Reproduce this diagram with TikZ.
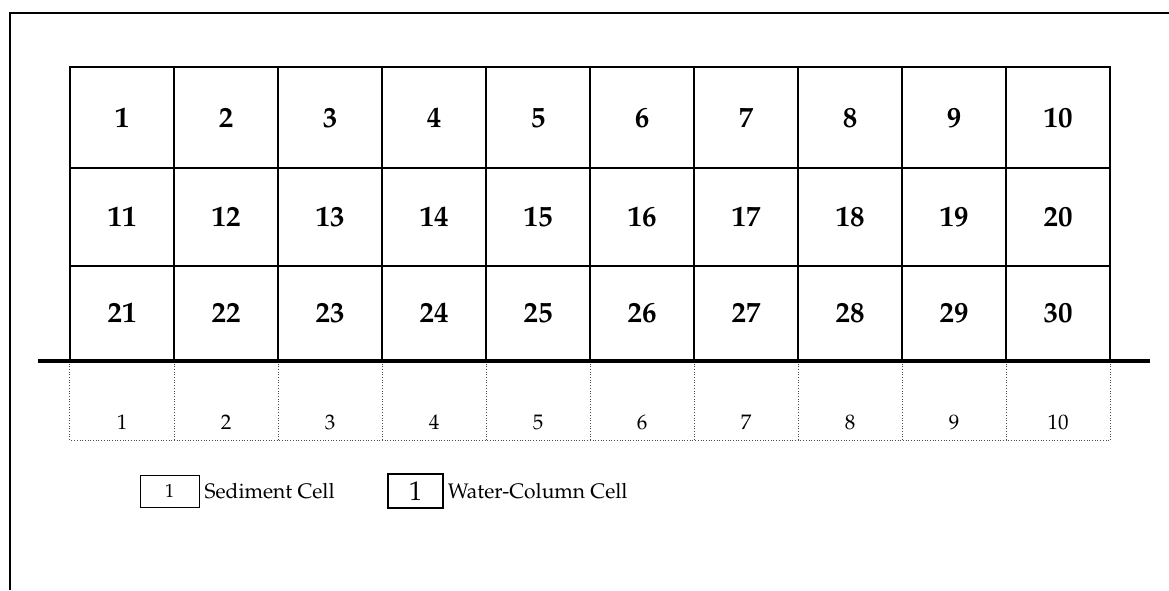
\documentclass[tikz,border=0pt]{standalone}
\usepackage[T1]{fontenc}
\usepackage{mathpazo}
\begin{document}
\begin{tikzpicture}[x=1pt,y=-1pt,
  wcell/.style={draw,line width=1.5pt,minimum width=104pt,inner sep=0pt,font=\fontsize{29}{32}\selectfont\bfseries},
  scell/.style={minimum width=104pt,minimum height=79pt,inner sep=0pt},
  sline/.style={dotted,line width=0.7pt,black!70},
  snum/.style={font=\fontsize{21}{24}\selectfont,anchor=base},
  frame/.style={line width=1.8pt},
  base/.style={line width=3.5pt},
  legtxt/.style={font=\fontsize{21}{24}\selectfont,anchor=west,inner sep=0pt}]
\useasboundingbox (0,0) rectangle (1169,590);
% outer frame (open right and bottom)
\coordinate (fbl) at (10,590);
\coordinate (ftl) at (10,13);
\coordinate (ftr) at (1169,13);
\draw[frame] (fbl) -- (ftl) -- (ftr);
% water-column cells
\foreach \r/\top/\h in {0/67/101,1/168/98,2/266/94}{
  \foreach \c in {1,...,10}{
    \pgfmathtruncatemacro{\n}{\r*10+\c}
    \node[wcell,minimum height=\h pt] (w\n) at ({70+(\c-0.5)*104},{\top+\h/2}) {\raisebox{-1.5pt}{\n}};
  }
}
% sediment cells
\foreach \c in {1,...,10}{
  \node[scell] (s\c) at ({70+(\c-0.5)*104},400.5) {};
  \node[snum] (sn\c) at ({70+(\c-0.5)*104},429) {\c};
  \draw[sline] (s\c.north east) -- (s\c.south east);
}
\draw[sline] (s1.north west) -- (s1.south west) -- (s10.south east);
% sediment-water interface
\coordinate (bl) at (38,361);
\coordinate (br) at (1150,361);
\draw[base] (bl) -- (br);
% legend
\node[draw,line width=0.8pt,minimum width=59pt,minimum height=32pt,inner sep=0pt,font=\fontsize{19}{22}\selectfont] (ls) at (169.5,491) {1};
\node[legtxt] (lst) at ([xshift=5pt]ls.east) {Sediment Cell};
\node[draw,line width=1.4pt,minimum width=55pt,minimum height=34pt,inner sep=0pt,font=\fontsize{27}{30}\selectfont] (lw) at (415.5,491) {1};
\node[legtxt] (lwt) at ([xshift=4pt]lw.east) {Water-Column Cell};
\end{tikzpicture}
\end{document}
